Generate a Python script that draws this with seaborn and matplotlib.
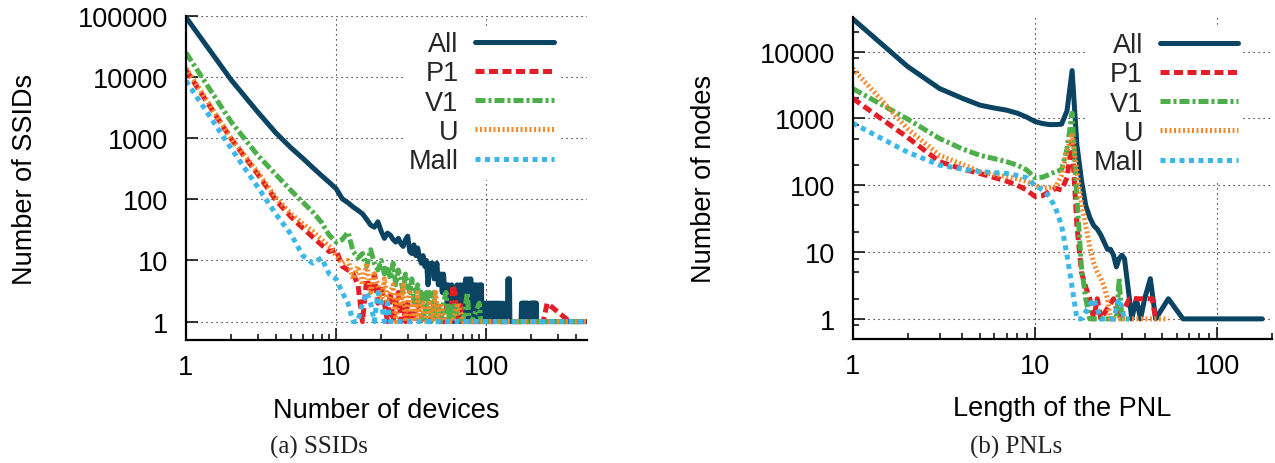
import matplotlib
matplotlib.use("Agg")
import matplotlib.pyplot as plt
import seaborn as sns
from matplotlib.ticker import LogLocator, NullFormatter

# ---------------- data ----------------
series_names = ["All", "P1", "V1", "U", "Mall"]

# (a) SSIDs: number of SSIDs seen by N devices
ssid_all_x = (list(range(1, 101)) + list(range(101, 127)) + list(range(127, 146))
              + [150, 160, 171] + list(range(172, 191)) + [193]
              + list(range(196, 218)) + [240, 300, 380, 465])
ssid_all_y = [95000, 9000, 2700, 1200, 700, 470, 330, 245, 190, 150,
              102, 88, 75, 66, 58, 47, 38, 35, 43, 30,
              23, 28, 26, 22, 20, 23, 19, 17, 22, 25,
              14, 13, 18, 12, 16, 11, 9, 12, 8, 10,
              4, 9, 7, 9, 5, 6, 9, 4, 5, 6,
              3, 6, 3, 4, 2, 4, 3, 2, 4, 3,
              1, 3, 1, 4, 1, 3, 4, 1, 2, 4,
              1, 2, 5, 1, 3, 5, 1, 2, 5, 1,
              3, 1, 4, 1, 2, 4, 1, 3, 1, 4,
              1, 2, 4, 1, 1, 2, 1, 1, 2, 1,
              2, 1, 2, 1, 2, 1, 2, 1, 2, 1, 2, 1, 2,
              1, 2, 1, 2, 1, 2, 1, 2, 1, 2, 1, 2, 1,
              1, 1, 2, 1, 1, 1, 1, 1, 2, 1, 1, 1,
              1, 5, 1, 3, 5, 1, 1,
              1, 1, 1,
              2, 1, 2, 1, 2, 1, 2, 1, 2, 1, 2, 1, 2, 1, 2, 1, 2, 1, 2,
              1,
              2, 1, 2, 1, 2, 1, 2, 1, 2, 1, 2, 1, 2, 1, 2, 1, 2, 1, 2, 1, 2, 1,
              1, 1, 1, 1]

ssid_p1_x = list(range(1, 31)) + [32, 35, 38, 42, 45, 48, 52, 55, 58, 60, 62, 64, 67,
                                  70, 75, 80, 90, 100, 120, 150, 200, 240, 255, 360, 465]
ssid_p1_y = [13000, 980, 260, 95, 52, 34, 24, 18, 14, 15,
             8, 7, 6, 4, 1, 5, 3, 6, 2, 4,
             2, 1, 3, 1, 2, 3, 1, 2, 1, 2,
             1, 2, 1, 1, 2, 1, 1, 2, 1, 4, 3, 1, 2,
             1, 1, 1, 1, 1, 1, 1, 1, 1, 2, 1, 1]

ssid_v1_x = list(range(1, 47)) + [48, 50, 52, 54, 56, 58, 60, 63, 66, 70, 75, 77, 80,
                                  90, 92, 100, 130, 180, 250, 350, 460]
ssid_v1_y = [25000, 1850, 530, 250, 140, 90, 62, 42, 26, 20,
             22, 29, 14, 11, 13, 8, 15, 9, 7, 10,
             6, 8, 5, 9, 4, 7, 5, 3, 6, 4,
             3, 5, 2, 3, 4, 2, 3, 2, 1, 3,
             2, 3, 1, 2, 3, 1,
             2, 1, 2, 3, 1, 2, 1, 2, 1, 1, 3, 1, 1,
             2, 1, 1, 1, 1, 1, 1, 1]

ssid_u_x = list(range(1, 37)) + [38, 40, 42, 44, 46, 48, 50, 53, 56, 60, 65, 70, 80,
                                 100, 130, 170, 220, 300, 400, 465]
ssid_u_y = [14000, 1000, 280, 105, 58, 40, 30, 22, 17, 12,
            9, 10, 5, 8, 4, 9, 3, 6, 4, 2,
            5, 2, 3, 4, 1, 3, 2, 4, 1, 2,
            3, 1, 2, 1, 3, 1,
            2, 1, 2, 1, 3, 1, 2, 1, 1, 1, 2, 1, 1,
            1, 1, 1, 1, 1, 1, 1]

ssid_mall_x = list(range(1, 25)) + [26, 30, 35, 40, 50, 60, 80, 100, 140, 200, 300, 465]
ssid_mall_y = [8700, 680, 160, 56, 27, 12, 9, 11, 6, 5,
               3, 2, 1, 1, 2, 3, 2, 1, 3, 2,
               1, 2, 1, 1,
               1, 1, 1, 1, 1, 1, 1, 1, 1, 1, 1, 1]

# (b) PNLs: number of nodes with a PNL of a given length
pnl_all_x = list(range(1, 33)) + [33, 34, 36, 38, 40, 43, 46, 54, 65, 100, 177]
pnl_all_y = [31000, 6000, 2800, 2000, 1580, 1430, 1330, 1200, 1050, 900,
             840, 810, 810, 820, 1300, 5200, 400, 120, 50, 33,
             25, 22, 18, 14, 11, 11, 9, 6, 8, 9,
             8, 4,
             2, 1, 2, 1, 2, 4, 1, 2, 1, 1, 1]

pnl_p1_x = list(range(1, 24)) + [27, 29, 33, 44, 46]
pnl_p1_y = [2000, 520, 225, 175, 150, 130, 115, 100, 85, 68,
            70, 80, 90, 85, 130, 450, 25, 5, 3, 2,
            1, 2, 1,
            2, 1, 2, 2, 1]

pnl_v1_x = list(range(1, 21)) + [22, 26, 28, 29, 30, 32]
pnl_v1_y = [2800, 980, 500, 350, 280, 250, 225, 200, 170, 130,
            132, 145, 160, 170, 350, 1200, 64, 6, 2, 1,
            1, 1, 1, 4, 1, 1]

pnl_u_x = list(range(1, 27)) + [30, 40, 50, 54]
pnl_u_y = [5600, 700, 280, 205, 160, 145, 135, 125, 115, 100,
           90, 92, 95, 140, 320, 600, 160, 55, 25, 12,
           7, 5, 4, 3, 2, 1,
           1, 1, 1, 1]

pnl_mall_x = list(range(1, 19)) + [21, 23, 27, 29, 31, 33]
pnl_mall_y = [850, 313, 200, 175, 160, 155, 150, 140, 130, 100,
              85, 68, 45, 25, 9, 3, 1, 1,
              2, 1, 1, 2, 1, 1]

ssid_yticks = [1, 10, 100, 1000, 10000, 100000]
pnl_yticks = [1, 10, 100, 1000, 10000]
xticks = [1, 10, 100]

# ---------------- style ----------------
sns.set_theme(style="white")
plt.rcParams["font.family"] = ["Liberation Sans", "DejaVu Sans"]

colors = {"All": "#0b4462", "P1": "#e41e26", "V1": "#4daf4a",
          "U": "#f58a2c", "Mall": "#3cb7e9"}
styles = {"All": "-", "P1": (0, (1.8, 0.9)), "V1": (0, (2.0, 0.6, 0.6, 0.6)),
          "U": (0, (0.4, 0.5)), "Mall": (0, (1.0, 0.9))}
LW = 3.6
FS = 19.5

fig = plt.figure(figsize=(12.75, 4.64), dpi=100)
ax1 = fig.add_axes([0.14588, 0.26509, 0.31451, 0.69828])
ax2 = fig.add_axes([0.66878, 0.26724, 0.32886, 0.69397])

panels = [
    (ax1, [(ssid_all_x, ssid_all_y), (ssid_p1_x, ssid_p1_y), (ssid_v1_x, ssid_v1_y),
           (ssid_u_x, ssid_u_y), (ssid_mall_x, ssid_mall_y)],
     (1, 470), (0.5, 100000), ssid_yticks, "Number of devices", "Number of SSIDs", 0.93),
    (ax2, [(pnl_all_x, pnl_all_y), (pnl_p1_x, pnl_p1_y), (pnl_v1_x, pnl_v1_y),
           (pnl_u_x, pnl_u_y), (pnl_mall_x, pnl_mall_y)],
     (1, 200), (0.5, 33000), pnl_yticks, "Length of the PNL", "Number of nodes", 0.932),
]

for ax, data, xlim, ylim, yticks, xlabel, ylabel, legx in panels:
    for name, (xs, ys) in zip(series_names, data):
        sns.lineplot(x=xs, y=ys, ax=ax, color=colors[name], linewidth=LW,
                     linestyle=styles[name], label=name, estimator=None)
    ax.set_xscale("log")
    ax.set_yscale("log")
    ax.set_xlim(*xlim)
    ax.set_ylim(*ylim)

    ax.set_xticks(xticks)
    ax.set_xticklabels([str(t) for t in xticks])
    ax.set_yticks(yticks)
    ax.set_yticklabels([str(t) for t in yticks])
    ax.xaxis.set_minor_locator(LogLocator(base=10, subs=range(2, 10)))
    ax.yaxis.set_minor_locator(LogLocator(base=10, subs=(2, 5, 8)))
    ax.xaxis.set_minor_formatter(NullFormatter())
    ax.yaxis.set_minor_formatter(NullFormatter())
    ax.tick_params(which="both", direction="in", bottom=True, left=True,
                   top=False, right=False, color="black", width=1.1)
    ax.tick_params(which="major", length=8.5, labelsize=FS, colors="black")
    ax.tick_params(which="minor", length=4)
    ax.tick_params(axis="x", which="major", pad=10)
    ax.tick_params(axis="y", which="major", pad=13)

    for s in ["top", "right"]:
        ax.spines[s].set_visible(False)
    for s in ["left", "bottom"]:
        ax.spines[s].set_color("black")
        ax.spines[s].set_linewidth(1.6)

    ax.grid(True, which="major", color="black", linestyle=(0, (1, 3.5)), linewidth=0.8)
    ax.grid(False, which="minor")
    ax.set_axisbelow(True)

    ax.set_xlabel(xlabel, fontsize=FS, color="black")
    ax.set_ylabel(ylabel, fontsize=FS, color="black")

    leg = ax.legend(loc="upper right", bbox_to_anchor=(legx, 0.97), markerfirst=False,
                    frameon=True, fancybox=False, framealpha=1, facecolor="white",
                    edgecolor="white", fontsize=FS, handlelength=2.9, handletextpad=0.6,
                    labelspacing=0.12, borderpad=0.2, borderaxespad=0)
    leg.get_frame().set_linewidth(0)

ax1.xaxis.set_label_coords(0.5, -0.175)
ax2.xaxis.set_label_coords(0.5, -0.175)
ax1.yaxis.set_label_coords(-0.369, 0.5)
ax2.yaxis.set_label_coords(-0.324, 0.5)

fig.text(319 / 1275, 1 - 447 / 464, "(a) SSIDs", ha="center", va="center",
         family="Liberation Serif", fontsize=18, color="#222222")
fig.text(1016 / 1275, 1 - 447 / 464, "(b) PNLs", ha="center", va="center",
         family="Liberation Serif", fontsize=18, color="#222222")

fig.savefig("out.png", dpi=100)
plt.close(fig)
